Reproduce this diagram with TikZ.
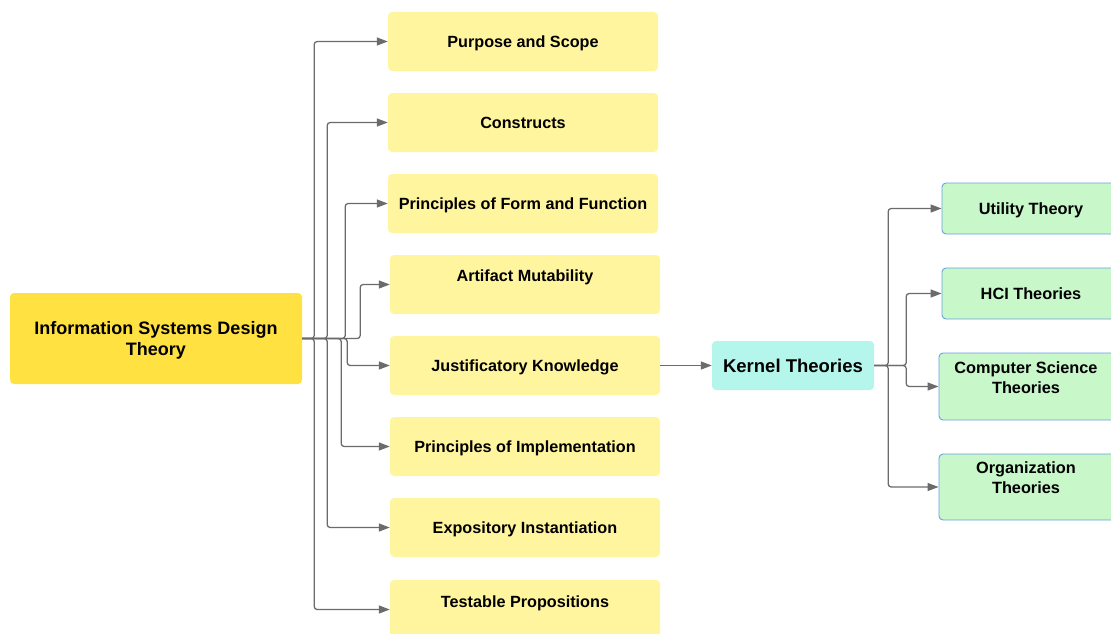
\documentclass[tikz,border=0pt]{standalone}
\usepackage{fontspec}
\setmainfont{Liberation Sans}
\usetikzlibrary{arrows.meta}

\definecolor{rootfill}{HTML}{FFE142}
\definecolor{partfill}{HTML}{FFF59E}
\definecolor{kernfill}{HTML}{B4F5EC}
\definecolor{theofill}{HTML}{C8F7CA}
\definecolor{theoline}{HTML}{6AA0E0}
\definecolor{linkgray}{HTML}{6B6B6B}

\tikzset{
  root/.style={fill=rootfill, rounded corners=4pt, minimum width=292pt, minimum height=91pt},
  roottext/.style={align=center, inner sep=0pt, font=\bfseries\fontsize{18}{21}\selectfont},
  part/.style={fill=partfill, rounded corners=4pt, minimum width=270pt, minimum height=59pt,
    text height=14pt, text depth=1.4pt, font=\bfseries\fontsize{16.2}{19}\selectfont},
  parttext/.style={align=center, inner sep=0pt, font=\bfseries\fontsize{16.2}{19}\selectfont},
  kern/.style={fill=kernfill, rounded corners=4pt, minimum width=162pt, minimum height=49pt,
    font=\bfseries\fontsize{18.5}{22}\selectfont},
  theo/.style={fill=theofill, draw=theoline, line width=0.9pt, rounded corners=4pt,
    text height=14pt, text depth=1.4pt, font=\bfseries\fontsize{16.3}{19}\selectfont},
  theotext/.style={align=center, inner sep=0pt, font=\bfseries\fontsize{16.3}{20}\selectfont},
  conn/.style={draw=linkgray, line width=1.3pt, rounded corners=3pt,
    -{Triangle[length=11pt,width=8pt]}},
}

\begin{document}
\begin{tikzpicture}[x=1pt,y=-1pt]
\useasboundingbox (0,0) rectangle (1111,634);

% root concept
\node[root] (isdt) at (156,338.5) {};
\node[roottext] (isdtT) at (156,340.5) {Information Systems Design\\Theory};

% components of a design theory
\node[part] (purpose) at (523,41.5) {Purpose and Scope};
\node[part] (constructs) at (523,122.5) {Constructs};
\node[part] (form) at (523,203.5) {Principles of Form and Function};
\node[part, text height=0pt, text depth=0pt] (mutab) at (525,284.5) {};
\node[parttext] (mutabT) at (525,277) {Artifact Mutability};
\node[part] (justif) at (525,365.5) {Justificatory Knowledge};
\node[part] (implem) at (525,446.5) {Principles of Implementation};
\node[part] (expos) at (525,527.5) {Expository Instantiation};
\node[part, text height=0pt, text depth=0pt] (testp) at (525,609.5) {};
\node[parttext] (testpT) at (525,603) {Testable Propositions};

% kernel theories
\node[kern] (kernel) at (793,365.5) {Kernel Theories};

\node[theo, minimum width=178pt, minimum height=51pt] (util) at (1031,208.5) {Utility Theory};
\node[theo, minimum width=178pt, minimum height=51pt] (hci) at (1031,293.5) {HCI Theories};
\node[theo, text height=0pt, text depth=0pt, minimum width=178pt, minimum height=67pt] (cs) at (1028,386.5) {};
\node[theotext] (csT) at (1026,378) {Computer Science\\Theories};
\node[theo, text height=0pt, text depth=0pt, minimum width=178pt, minimum height=66pt] (org) at (1028,487) {};
\node[theotext] (orgT) at (1026,478) {Organization\\Theories};

% connectors from the root
\draw[conn] (isdt.east) -- ++(12,0) |- (purpose.west);
\draw[conn] (isdt.east) -- ++(12,0) |- (testp.west);
\draw[conn] (isdt.east) -- ++(25,0) |- (constructs.west);
\draw[conn] (isdt.east) -- ++(25,0) |- (expos.west);
\draw[conn] (isdt.east) -- ++(43,0) |- (form.west);
\draw[conn] (isdt.east) -- ++(39,0) |- (implem.west);
\draw[conn] (isdt.east) -- ++(45,0) |- (justif.west);
\draw[conn] (isdt.east) -- ++(58,0) |- (mutab.west);

\draw[conn] (justif.east) -- (kernel.west);

% connectors from the kernel theories
\draw[conn] (kernel.east) -- ++(14,0) |- (util.west);
\draw[conn] (kernel.east) -- ++(14,0) |- (org.west);
\draw[conn] (kernel.east) -- ++(32,0) |- (hci.west);
\draw[conn] (kernel.east) -- ++(32,0) |- (cs.west);
\end{tikzpicture}
\end{document}
